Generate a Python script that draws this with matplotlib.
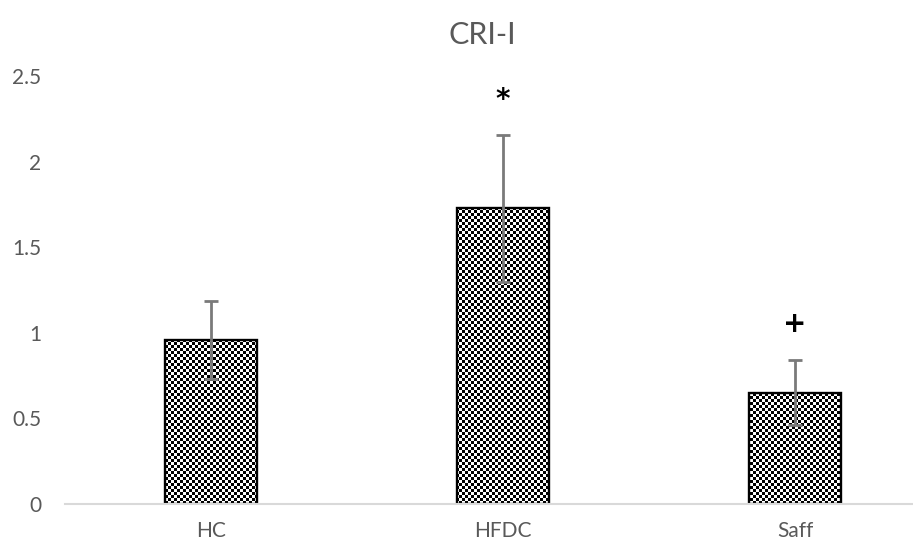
import numpy as np
import matplotlib
matplotlib.use("Agg")
import matplotlib.pyplot as plt

categories = ["HC", "HFDC", "Saff"]
values = [0.96, 1.73, 0.65]
errors = [0.23, 0.43, 0.19]
marks = ["", "*", "+"]
mark_y = [None, 2.36, 1.05]
yticks = [0, 0.5, 1, 1.5, 2, 2.5]
ytick_labels = ["0", "0.5", "1", "1.5", "2", "2.5"]
title = "CRI-I"

W, H, DPI = 913, 543, 100
plt.rcParams['font.family'] = ['Lato', 'DejaVu Sans']
fig = plt.figure(figsize=(W / DPI, H / DPI), dpi=DPI)
left, right = 65, 941
bottom, top = 39, 466.5
ax = fig.add_axes([left / W, bottom / H, (right - left) / W, (top - bottom) / H])
ax.set_facecolor('none')

x = np.arange(len(categories))
bars = ax.bar(x, values, width=0.315, facecolor='none', edgecolor='black',
              linewidth=1.7, zorder=2)
ax.errorbar(x, values, yerr=errors, fmt='none', ecolor='#7a7a7a',
            elinewidth=2.0, capsize=5, capthick=2.0, zorder=3)

# checker pattern fill
yy, xx = np.mgrid[0:H, 0:W]
pattern = (((xx // 3) + (yy // 3)) % 2).astype(float)
for b in bars:
    im = fig.figimage(pattern, 0, 0, cmap='gray', vmin=0, vmax=1, zorder=-1)
    im.set_clip_path(b)

for xi, m, my in zip(x, marks, mark_y):
    if m:
        ax.text(xi, my, m, ha='center', va='center', fontsize=20,
                fontweight='bold', color='black', family=['DejaVu Sans'])

ax.set_xlim(-0.5, 2.5)
ax.set_ylim(0, 2.5)
ax.set_yticks(yticks)
ax.set_yticklabels(ytick_labels)
ax.set_xticks(x)
ax.set_xticklabels(categories)
ax.tick_params(axis='both', length=0, labelsize=15, colors='#595959')
ax.tick_params(axis='y', pad=17)
ax.tick_params(axis='x', pad=12)
for s in ['top', 'right', 'left']:
    ax.spines[s].set_visible(False)
ax.spines['bottom'].set_color('#d9d9d9')
ax.spines['bottom'].set_linewidth(1.5)

fig.text(482 / W, 1 - 35 / H, title, ha='center', va='center', fontsize=22,
         color='#595959')

fig.savefig('out.png', dpi=DPI, facecolor='white')
